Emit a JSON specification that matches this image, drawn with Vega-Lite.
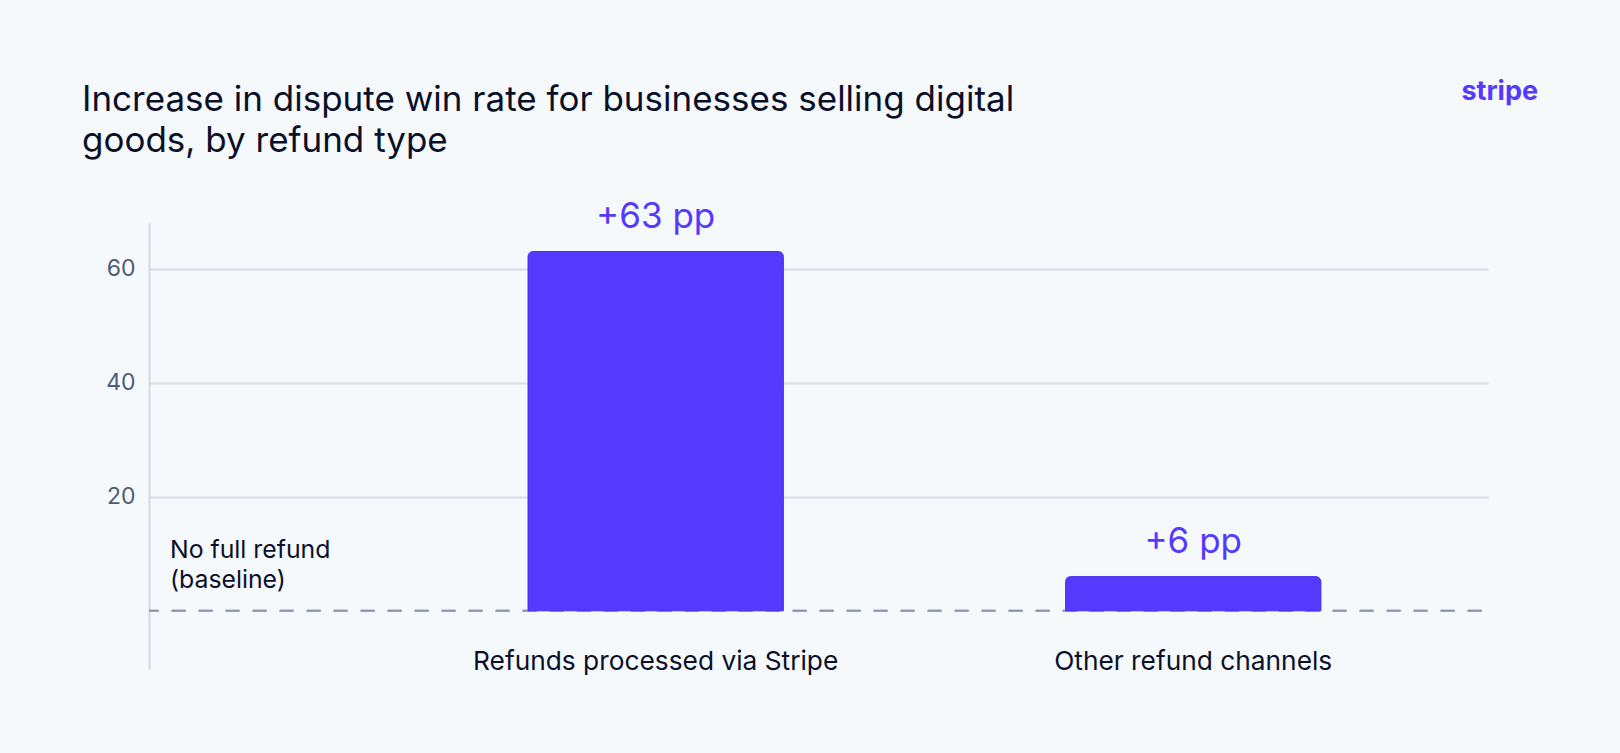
{
  "$schema": "https://vega.github.io/schema/vega-lite/v6.json",
  "autosize": {"type": "none"},
  "width": 1339,
  "height": 446,
  "padding": {"left": 149, "top": 223, "right": 132, "bottom": 84},
  "background": "#f6f9fc",
  "title": {
    "text": ["Increase in dispute win rate for businesses selling digital", "goods, by refund type"],
    "anchor": "start",
    "frame": "group",
    "dx": -67,
    "dy": 146,
    "offset": 65,
    "font": "Inter",
    "fontSize": 35,
    "fontWeight": "normal",
    "lineHeight": 41,
    "color": "#0b1029"
  },
  "data": {
    "values": [
      {"channel": "Refunds processed via Stripe", "increase": 63},
      {"channel": "Other refund channels", "increase": 6}
    ]
  },
  "layer": [
    {
      "mark": {"type": "rule", "color": "#8f99b1", "strokeWidth": 2, "strokeDash": [14, 13], "strokeDashOffset": 20.6},
      "encoding": {
        "y": {"datum": 0, "type": "quantitative"}
      }
    },
    {
      "mark": {"type": "bar", "color": "#5539fd", "stroke": "#4b2ff2", "strokeWidth": 1, "cornerRadiusTopLeft": 5, "cornerRadiusTopRight": 5},
      "encoding": {
        "x": {
          "field": "channel",
          "type": "nominal",
          "sort": null,
          "scale": {"paddingInner": 0.525, "paddingOuter": 0.508, "align": 0.694},
          "axis": {
            "title": null,
            "domain": false,
            "ticks": false,
            "tickSize": 0,
            "labelPadding": 0,
            "labelBaseline": "alphabetic",
            "labelAngle": 0,
            "labelFont": "Inter",
            "labelFontSize": 26.3,
            "labelColor": "#0b1029",
            "labelLimit": 500
          }
        },
        "y": {
          "field": "increase",
          "type": "quantitative",
          "scale": {"domain": [-10.2, 68], "nice": false, "zero": false},
          "axis": {
            "title": null,
            "values": [20, 40, 60],
            "grid": true,
            "gridColor": "#d6deea",
            "gridWidth": 2,
            "domain": true,
            "domainColor": "#cfd8e6",
            "domainWidth": 2,
            "ticks": false,
            "labelPadding": 14,
            "labelFont": "Inter",
            "labelFontSize": 23,
            "labelColor": "#4c5d7a"
          }
        }
      }
    },
    {
      "transform": [{"calculate": "'+' + datum.increase + ' pp'", "as": "label"}],
      "mark": {"type": "text", "font": "Inter", "fontSize": 35, "color": "#5539fd", "baseline": "alphabetic", "dy": -24},
      "encoding": {
        "x": {"field": "channel", "type": "nominal", "sort": null},
        "y": {"field": "increase", "type": "quantitative"},
        "text": {"field": "label"}
      }
    },
    {
      "data": {"values": [{"note": "No full refund (baseline)", "level": 0}]},
      "mark": {"type": "text", "font": "Inter", "fontSize": 24.8, "color": "#0b1029", "align": "left", "baseline": "bottom", "lineHeight": 30, "dx": 21, "dy": -47.5},
      "encoding": {
        "x": {"value": 0},
        "y": {"field": "level", "type": "quantitative"},
        "text": {"value": ["No full refund", "(baseline)"]}
      }
    },
    {
      "data": {"values": [{"brand": "stripe"}]},
      "mark": {"type": "text", "font": "Inter", "fontSize": 27, "fontWeight": "bold", "color": "#5539fd", "align": "right", "baseline": "alphabetic", "letterSpacing": -1},
      "encoding": {
        "x": {"value": 1389},
        "y": {"value": -123},
        "text": {"field": "brand"}
      }
    }
  ],
  "config": {
    "view": {"stroke": null}
  }
}
